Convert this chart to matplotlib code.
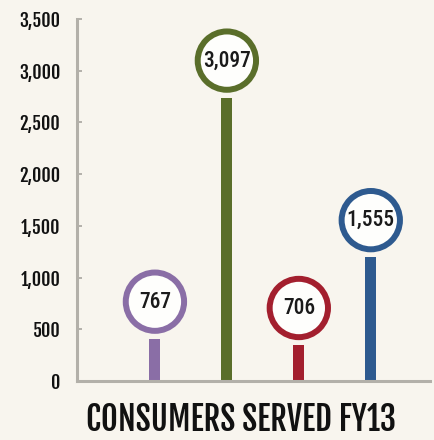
import matplotlib
matplotlib.use("Agg")
import matplotlib.pyplot as plt
import numpy as np

# data
programs = ["A", "B", "C", "D"]
consumers = [767, 3097, 706, 1555]
colors = ["#8a6ea6", "#5a6e2a", "#a31f2e", "#2e5a8f"]
yticks = [0, 500, 1000, 1500, 2000, 2500, 3000, 3500]
title = "CONSUMERS SERVED FY13"

bg = "#f8f5ee"
head_font = ["Fjalla One", "Roboto Condensed", "DejaVu Sans"]
num_font = ["Roboto Condensed", "DejaVu Sans"]

fig = plt.figure(figsize=(4.35, 4.4), dpi=100, facecolor=bg)
ax = fig.add_axes([0.177, 0.134, 0.811, 0.823], facecolor=bg)

x = np.arange(len(consumers))
# stick stops a little below the ring
gap = 360
ax.bar(x, [v - gap for v in consumers], width=0.153, color=colors, zorder=2)
ax.scatter(x, consumers, s=42 ** 2, facecolor="#fefefc", edgecolor=colors,
           linewidths=4.3, zorder=3, clip_on=False)
for xi, v in zip(x, consumers):
    ax.text(xi, v, f"{v:,}", ha="center", va="center", fontsize=15.5,
            family=num_font, fontweight="medium", color="#1a1a1a", zorder=4)

ax.set_xlim(-1.083, 3.82)
ax.set_ylim(0, 3500)
ax.set_yticks(yticks)
ax.set_yticklabels([f"{t:,}" for t in yticks], family=head_font,
                   fontweight="bold", fontsize=13)
ax.set_xticks([])
ax.tick_params(axis="y", direction="in", length=3.6, width=1.2,
               color="#a8a59f", pad=12, labelcolor="#111111")
for s in ["top", "right"]:
    ax.spines[s].set_visible(False)
for s in ["left", "bottom"]:
    ax.spines[s].set_color("#b3b0a9")
    ax.spines[s].set_linewidth(2.2)

fig.text(0.555, 0.02, title, ha="center", va="baseline", fontsize=23.5,
         family=head_font, fontweight="bold", color="#111111")

fig.savefig("out.png", facecolor=bg)
